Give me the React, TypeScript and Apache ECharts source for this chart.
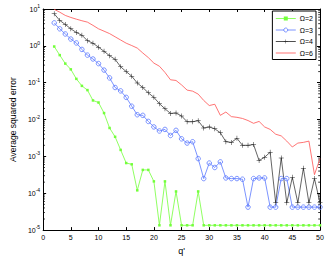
import React, { useEffect, useRef } from "react";
import * as echarts from "echarts";

const qValues = [2,3,4,5,6,7,8,9,10,11,12,13,14,15,16,17,18,19,20,21,22,23,24,25,26,27,28,29,30,31,32,33,34,35,36,37,38,39,40,41,42,43,44,45,46,47,48,49,50];
const seriesNames = ["Ω=2", "Ω=3", "Ω=4", "Ω=6"];
const omega2 = [0.96,0.56,0.33,0.23,0.127,0.082,0.063,0.033,0.029,0.015,0.0059,0.0034,0.0015,0.00066,0.00061,0.00012,0.00043,0.00043,0.00021,1.35e-5,0.00021,1.35e-5,0.000112,1.35e-5,1.35e-5,1.35e-5,0.000112,1.35e-5,1.35e-5,1.35e-5,1.35e-5,1.35e-5,1.35e-5,1.35e-5,1.35e-5,1.35e-5,1.35e-5,1.35e-5,1.35e-5,1.35e-5,1.35e-5,1.35e-5,1.35e-5,1.35e-5,1.35e-5,1.35e-5,1.35e-5,1.35e-5,1.35e-5];
const omega3 = [4.2,2.9,2.1,1.53,1.2,0.8,0.56,0.44,0.33,0.22,0.135,0.074,0.06,0.04,0.023,0.0135,0.013,0.0089,0.0063,0.0049,0.0054,0.0037,0.0051,0.003,0.0023,0.0025,0.00087,0.00025,0.00066,0.0005,0.00071,0.00026,0.00025,0.00025,0.00024,4.2e-5,0.00025,0.00026,0.00026,4.2e-5,4.2e-5,0.00025,0.00025,4.2e-5,4.2e-5,4.2e-5,4.2e-5,4.2e-5,4.2e-5];
const omega4 = [7.4,4.9,3.8,2.9,2.3,1.95,1.38,1.18,0.92,0.71,0.54,0.43,0.27,0.2,0.15,0.098,0.074,0.053,0.04,0.027,0.0196,0.0147,0.015,0.0125,0.0087,0.0087,0.0093,0.0059,0.0063,0.0056,0.0044,0.0025,0.0024,0.0031,0.002,0.002,0.0021,0.00077,0.00095,0.0013,5.5e-5,0.00091,5.5e-5,0.00027,5.5e-5,0.00048,5.5e-5,0.00025,5.5e-5];
const omega6 = [9.8,8.2,6.7,5.9,5.3,4.8,4.4,3.6,2.9,2.5,2.15,1.76,1.44,1.18,1.02,0.87,0.64,0.48,0.34,0.28,0.19,0.12,0.115,0.087,0.063,0.059,0.049,0.033,0.024,0.026,0.013,0.016,0.012,0.0115,0.0107,0.0094,0.0079,0.0089,0.0063,0.0054,0.004,0.0036,0.0026,0.0018,0.0023,0.0024,0.0026,0.00032,0.00087];
const xTicks = [0, 5, 10, 15, 20, 25, 30, 35, 40, 45, 50];
const decades = [1e-5, 1e-4, 1e-3, 1e-2, 1e-1, 1];
const minorMultipliers = [2, 3, 4, 5, 6, 7, 8, 9];

const plusPath = "path://M-0.1,-1H0.1V-0.1H1V0.1H0.1V1H-0.1V0.1H-1V-0.1H-0.1Z";
const lineIcon = "path://M0,0H20V0.8H0Z";

export default function App() {
  const ref = useRef<HTMLDivElement>(null);
  useEffect(() => {
    if (!ref.current) return;
    const chart = echarts.init(ref.current, null, { renderer: "svg" });
    const toPairs = (arr: number[]) => arr.map((v, i) => [qValues[i], v]);
    const font = "Liberation Sans, Arial, sans-serif";
    const yLabel = (v: number) => {
      const e = Math.round(Math.log10(v));
      return "{b|10}{s|" + e + "}";
    };
    const minorValues: number[] = [];
    decades.forEach((d) => minorMultipliers.forEach((m) => minorValues.push(d * m)));
    const commonX = {
      type: "value" as const,
      min: xTicks[0],
      max: xTicks[xTicks.length - 1],
      interval: 5,
      splitLine: { show: false },
      axisLine: { show: true, onZero: false, lineStyle: { color: "#000", width: 1 } },
      axisTick: { show: true, inside: true, length: 3, lineStyle: { color: "#000" } },
    };
    const commonY = {
      type: "log" as const,
      logBase: 10,
      min: 1e-5,
      max: 10,
      splitLine: { show: false },
      axisLine: { show: true, onZero: false, lineStyle: { color: "#000", width: 1 } },
      axisTick: { show: true, inside: true, length: 3, lineStyle: { color: "#000" } },
    };
    chart.setOption({
      animation: false,
      backgroundColor: "#fff",
      grid: { left: 31.7, right: 7, top: 9, bottom: 23 },
      legend: {
        orient: "vertical",
        right: 11,
        top: 11,
        data: [
          { name: seriesNames[0] },
          { name: seriesNames[1], itemStyle: { color: "#fff", borderColor: "#5a78ff", borderWidth: 0.8 } },
          { name: seriesNames[2] },
          { name: seriesNames[3], icon: lineIcon },
        ],
        lineStyle: { width: 0.8 },
        symbolKeepAspect: true,
        backgroundColor: "#fff",
        borderColor: "#000",
        borderWidth: 1,
        borderRadius: 0,
        padding: [4, 3, 3, 3],
        itemGap: 4.5,
        itemWidth: 20,
        itemHeight: 5,
        textStyle: { fontSize: 7, fontFamily: font, color: "#000", padding: [0, 0, 0, -1] },
      },
      xAxis: [
        {
          ...commonX,
          position: "bottom",
          name: "q'",
          nameLocation: "middle",
          nameGap: 12,
          nameTextStyle: { fontSize: 9, fontFamily: font, color: "#000" },
          axisLabel: { fontSize: 7, fontFamily: font, color: "#000", margin: 4 },
        },
        { ...commonX, position: "top", axisLabel: { show: false } },
      ],
      yAxis: [
        {
          ...commonY,
          position: "left",
          name: "Average squared error",
          nameLocation: "middle",
          nameGap: 22,
          nameTextStyle: { fontSize: 8.5, fontFamily: font, color: "#000" },
          axisLabel: {
            formatter: yLabel,
            margin: 3,
            rich: {
              b: { fontSize: 7, fontFamily: font, color: "#000" },
              s: { fontSize: 5, fontFamily: font, color: "#000", padding: [0, 0, 6, 0] },
            },
          },
        },
        { ...commonY, position: "right", axisLabel: { show: false } },
      ],
      series: [
        {
          name: "minorTicks",
          type: "custom",
          silent: true,
          data: minorValues.map((v) => [xTicks[0], v]),
          renderItem: (params: any, api: any) => {
            const v = api.value(1);
            const pl = api.coord([xTicks[0], v]);
            const pr = api.coord([xTicks[xTicks.length - 1], v]);
            return {
              type: "group",
              children: [
                { type: "line", shape: { x1: pl[0], y1: pl[1], x2: pl[0] + 1.8, y2: pl[1] }, style: { stroke: "#000", lineWidth: 0.8 } },
                { type: "line", shape: { x1: pr[0], y1: pr[1], x2: pr[0] - 1.8, y2: pr[1] }, style: { stroke: "#000", lineWidth: 0.8 } },
              ],
            };
          },
        },
        {
          name: seriesNames[0],
          type: "line",
          data: toPairs(omega2),
          symbol: "rect",
          symbolSize: 2.5,
          itemStyle: { color: "#73ff3a" },
          lineStyle: { color: "#73ff3a", width: 0.8 },
        },
        {
          name: seriesNames[1],
          type: "line",
          data: toPairs(omega3),
          symbol: "circle",
          symbolSize: 4.5,
          itemStyle: { color: "rgba(255,255,255,0)", borderColor: "#5a78ff", borderWidth: 0.8 },
          lineStyle: { color: "#5a78ff", width: 0.8 },
        },
        {
          name: seriesNames[2],
          type: "line",
          data: toPairs(omega4),
          symbol: plusPath,
          symbolSize: 5,
          itemStyle: { color: "#222" },
          lineStyle: { color: "#222", width: 0.7 },
        },
        {
          name: seriesNames[3],
          type: "line",
          data: toPairs(omega6),
          symbol: "none",
          showSymbol: false,
          itemStyle: { color: "#ff5050" },
          lineStyle: { color: "#ff5050", width: 0.8 },
        },
      ],
    });
    return () => chart.dispose();
  }, []);
  return <div ref={ref} style={{ position: "fixed", left: 0, top: 0, width: 327, height: 260 }} />;
}
